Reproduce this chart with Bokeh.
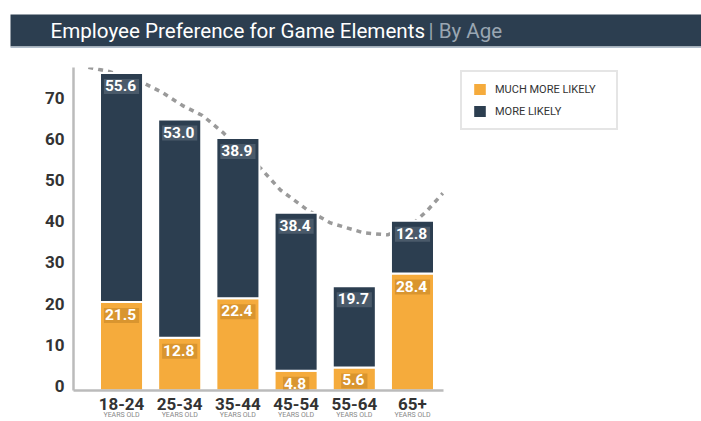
from bokeh.plotting import figure
from bokeh.models import Range1d, FixedTicker, LinearAxis, Legend, LegendItem, ColumnDataSource
from bokeh.layouts import column
from bokeh.embed import file_html
from bokeh.resources import INLINE
from bokeh.core.properties import value

# ---------------- data ----------------
categories = ["18-24", "25-34", "35-44", "45-54", "55-64", "65+"]
sub_label = "YEARS OLD"
much_more_likely = [21.5, 12.8, 22.4, 4.8, 5.6, 28.4]
more_likely = [55.6, 53.0, 38.9, 38.4, 19.7, 12.8]
series_names = ["MUCH MORE LIKELY", "MORE LIKELY"]
y_ticks = [0, 10, 20, 30, 40, 50, 60, 70]
# dotted trend curve (category index, value)
trend_x = [-0.57, -0.22, 0.36, 0.70, 1.05, 1.39, 1.74, 2.05, 2.39, 2.73, 3.20, 3.59, 4.16, 4.57, 4.97, 5.26, 5.52]
trend_y = [78.5, 77.5, 74.8, 72.4, 69.2, 66.8, 62.7, 58.4, 54.0, 48.7, 43.8, 40.7, 38.3, 37.8, 40.0, 43.8, 47.9]
title_main = "Employee Preference for Game Elements"
title_sub = "| By Age"

# ---------------- styles ----------------
NAVY = "#2C3E50"
ORANGE = "#F5AB3C"
NAVY_BOX = "#4A5A6A"
ORANGE_BOX = "#D9952F"
FONT = "Roboto"

# ---------------- title bar ----------------
tf = figure(width=701, height=60, x_range=Range1d(0, 701), y_range=Range1d(0, 60),
            output_backend="svg", toolbar_location=None, min_border=0,
            x_axis_location=None, y_axis_location=None, outline_line_color=None)
tf.frame_align = False
tf.grid.visible = False
tf.quad(left=[10], right=[701], bottom=[14], top=[46], fill_color=NAVY, line_color=None)
tf.quad(left=[10], right=[701], bottom=[12.5], top=[14], fill_color="#B3BFCC", line_color=None)
tf.text(x=[50], y=[30], text=[title_main], text_color="white", text_font=value(FONT),
        text_font_size="20.6px", text_baseline="middle", text_align="left")
tf.text(x=[428], y=[30], text=[title_sub], text_color="#9AA6B2", text_font=value(FONT),
        text_font_size="20.6px", text_baseline="middle", text_align="left")

# ---------------- chart ----------------
xs = list(range(len(categories)))
totals = [a + b for a, b in zip(much_more_likely, more_likely)]
src = ColumnDataSource(dict(
    x=xs, much=much_more_likely, more=more_likely, total=totals,
    much_lbl=[f"{v:.1f}" for v in much_more_likely],
    more_lbl=[f"{v:.1f}" for v in more_likely],
))

X0, X1 = -0.825, 5.53
Y_TOP = 78.45
LABEL_SHIFT = 1.1  # tick labels sit slightly above their ticks in the reference
p = figure(width=701, height=361, x_range=Range1d(X0, 9.966), y_range=Range1d(0, Y_TOP),
           output_backend="svg", toolbar_location=None,
           min_border_left=73, min_border_right=0, min_border_top=7, min_border_bottom=0,
           outline_line_color=None)
p.extra_y_ranges = {"ylab": Range1d(-LABEL_SHIFT, Y_TOP - LABEL_SHIFT)}
p.frame_align = False
p.grid.visible = False

p.line(trend_x, trend_y, line_color="#9A9A9A", line_width=3.5, line_dash="5 5")

r_much = p.vbar(x="x", bottom=0, top="much", width=0.74, source=src,
                fill_color=ORANGE, line_color="white", line_width=2)
r_more = p.vbar(x="x", bottom="much", top="total", width=0.74, source=src,
                fill_color=NAVY, line_color="white", line_width=2)

common = dict(text_align="center", text_baseline="top", text_color="white",
              text_font=value(FONT), text_font_style="bold", text_font_size="15.5px",
              y_offset=6, padding=[1, 3, 1, 3], source=src)
p.text(x="x", y="total", text="more_lbl", background_fill_color=NAVY_BOX, **common)
p.text(x="x", y="much", text="much_lbl", background_fill_color=ORANGE_BOX, **common)

# y axis: line only
ya = p.yaxis[0]
ya.ticker = FixedTicker(ticks=[])
ya.major_tick_in = 0
ya.major_tick_out = 0
ya.minor_tick_in = 0
ya.minor_tick_out = 0
ya.axis_line_color = "#BBBBBB"
ya.axis_line_width = 2.5
ya.major_label_standoff = 0

# y axis labels
ya2 = LinearAxis(y_range_name="ylab", ticker=FixedTicker(ticks=y_ticks),
                 axis_line_color=None, major_tick_in=0, major_tick_out=0,
                 minor_tick_in=0, minor_tick_out=0,
                 major_label_text_font=FONT, major_label_text_font_style="bold",
                 major_label_text_font_size="17px", major_label_text_color="#333333",
                 major_label_standoff=9)
p.add_layout(ya2, "left")

# x axis (category names)
xa = p.xaxis[0]
xa.ticker = FixedTicker(ticks=xs)
xa.bounds = (X0, X1)
xa.major_label_overrides = {i: c for i, c in zip(xs, categories)}
xa.major_label_text_font = FONT
xa.major_label_text_font_style = "bold"
xa.major_label_text_font_size = "17px"
xa.major_label_text_color = "#333333"
xa.major_tick_in = 0
xa.major_tick_out = 0
xa.minor_tick_in = 0
xa.minor_tick_out = 0
xa.axis_line_color = "#BBBBBB"
xa.axis_line_width = 2.5
xa.major_label_standoff = 7

# second x axis ("YEARS OLD")
xa2 = LinearAxis(ticker=FixedTicker(ticks=xs), bounds=(X0, X1),
                 major_label_overrides={i: sub_label for i in xs},
                 axis_line_color=None, major_tick_in=0, major_tick_out=0,
                 minor_tick_in=0, minor_tick_out=0,
                 major_label_text_font=FONT, major_label_text_font_size="7px",
                 major_label_text_color="#888888", major_label_standoff=-2)
p.add_layout(xa2, "below")

legend = Legend(items=[LegendItem(label=series_names[0], renderers=[r_much]),
                       LegendItem(label=series_names[1], renderers=[r_more])],
                location=(387, 260), border_line_color="#CCCCCC", border_line_width=2,
                padding=9, spacing=6, glyph_height=16, glyph_width=17, label_standoff=7,
                label_width=112,
                label_text_font=FONT, label_text_font_size="11px", label_text_color="#333333",
                label_height=16, margin=0, background_fill_color="white", background_fill_alpha=1)
p.add_layout(legend)

layout = column(tf, p, spacing=0)
open("out.html", "w").write(file_html(layout, INLINE))
